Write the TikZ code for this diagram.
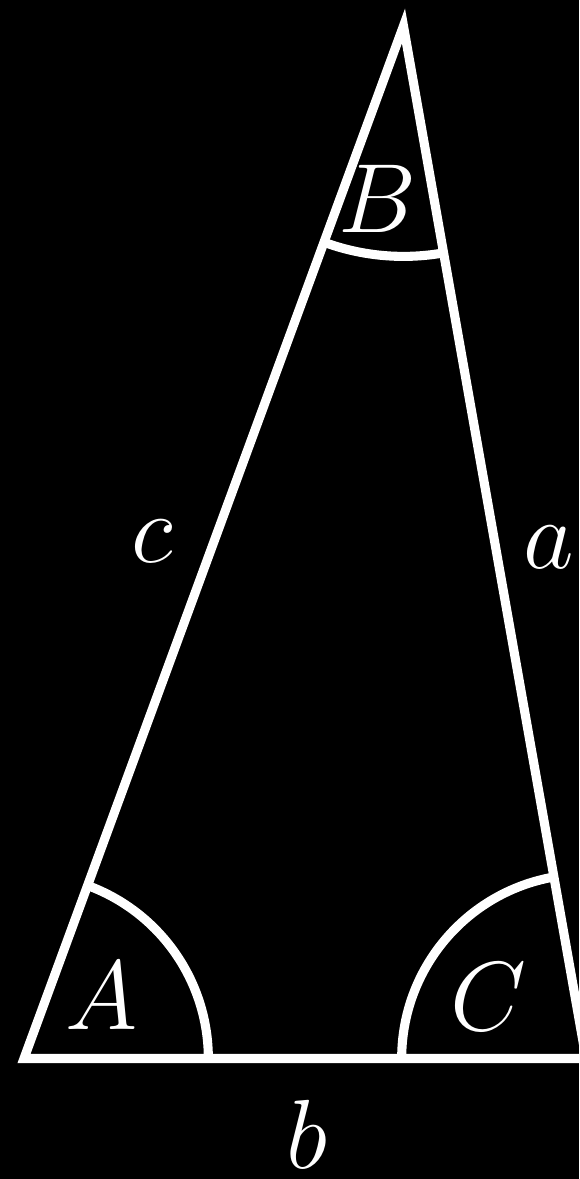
\documentclass[tikz,border=0pt]{standalone}
\usepackage{amsmath,amssymb}
\usepackage{xcolor}
\usepackage{tikz}
\usetikzlibrary{arrows.meta,calc,positioning,angles}

\begin{document}
\begin{tikzpicture}[>=Latex, font=\fontsize{29}{34}\selectfont]
  \tikzset{side/.style={draw=white, line width=2.3pt},
           lbl/.style={text=white, inner sep=0pt, anchor=center}}
  \useasboundingbox[fill=black] (-0.2135,-1.072) rectangle (4.938,9.417);
  \coordinate (A) at (0,0);
  \coordinate (C) at (5,0);
  \coordinate (B) at (3.376,9.186);
  \draw[side] (A) -- (C) -- (B) -- cycle;
  \pic[side, angle radius=1.64cm] {angle=C--A--B};
  \pic[side, angle radius=1.64cm] {angle=B--C--A};
  \pic[side, angle radius=2.05cm] {angle=A--B--C};
  \node[lbl] (angA) at (0.694,0.556) {$A$};
  \node[lbl] (angB) at (3.149,7.647) {$B$};
  \node[lbl] (angC) at (4.128,0.547) {$C$};
  \node[lbl] (sidec) at (1.139,4.604) {$c$};
  \node[lbl] (sidea) at (4.671,4.551) {$a$};
  \node[lbl] (sideb) at (2.518,-0.675) {$b$};
\end{tikzpicture}
\end{document}
